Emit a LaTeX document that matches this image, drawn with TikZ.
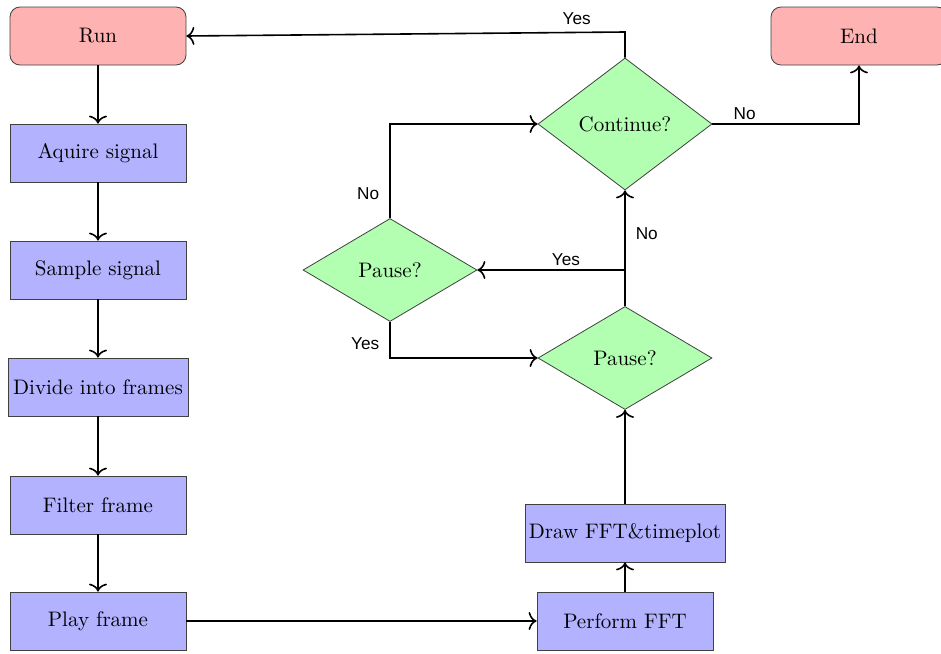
\documentclass[tikz,border=0pt]{standalone}
\usepackage{fontspec}
\newfontfamily\lblfont{Liberation Sans}
\usetikzlibrary{shapes.geometric,arrows.meta}
\begin{document}
\begin{tikzpicture}[x=0.5pt,y=-0.5pt,
  box/.style={draw=black!75, fill=blue!30, minimum width=88pt, minimum height=29pt, inner sep=0pt, font=\fontsize{10.5}{12}\selectfont},
  term/.style={box, fill=red!30, rounded corners=5pt},
  dec/.style={diamond, draw=black!75, fill=green!30, minimum width=87pt, minimum height=51.5pt, inner sep=0pt, font=\fontsize{10.5}{12}\selectfont},
  conn/.style={-{To[length=4pt,width=9pt]}, line width=0.8pt},
  lbl/.style={font=\lblfont\fontsize{8.6}{10}\selectfont, inner sep=2pt}]
\useasboundingbox (0,0) rectangle (941,653);
\node[term] (run) at (98,36) {Run};
\node[term] (end) at (859,36) {End};
\node[box] (acq) at (98,153) {Aquire signal};
\node[box] (samp) at (98,270) {Sample signal};
\node[box, minimum width=90pt] (div) at (98,387) {Divide into frames};
\node[box] (filt) at (98,505) {Filter frame};
\node[box] (play) at (98,621) {Play frame};
\node[box] (fft) at (625,621) {Perform FFT};
\node[box, minimum width=100pt] (drw) at (625,533) {Draw FFT\&timeplot};
\node[dec] (p2) at (625,358) {Pause?};
\node[dec] (p1) at (390,270) {Pause?};
\node[dec, minimum height=66pt] (cont) at (625,124) {Continue?};
\coordinate (ctop) at (625,32);
\coordinate (j) at (p2.north |- p1.east);
\draw[conn] (run) -- (acq);
\draw[conn] (acq) -- (samp);
\draw[conn] (samp) -- (div);
\draw[conn] (div) -- (filt);
\draw[conn] (filt) -- (play);
\draw[conn] (play) -- (fft);
\draw[conn] (fft) -- (drw);
\draw[conn] (drw) -- (p2);
\draw[conn] (p2.north) -- node[lbl, pos=0.63, right, xshift=3pt] {No} (cont.south);
\draw[conn] (j) -- node[lbl, pos=0.4, above] {Yes} (p1.east);
\draw[conn] (p1.north) |- node[lbl, pos=0.13, left, xshift=-3pt] {No} (cont.west);
\draw[conn] (p1.south) |- node[lbl, pos=0.3, left, xshift=-3pt] {Yes} (p2.west);
\draw[conn] (cont.north) -- (ctop) -- node[lbl, pos=0.11, above, yshift=1.5pt] {Yes} (run.east);
\draw[conn] (cont.east) -| node[lbl, pos=0.11, above] {No} (end.south);
\end{tikzpicture}
\end{document}
